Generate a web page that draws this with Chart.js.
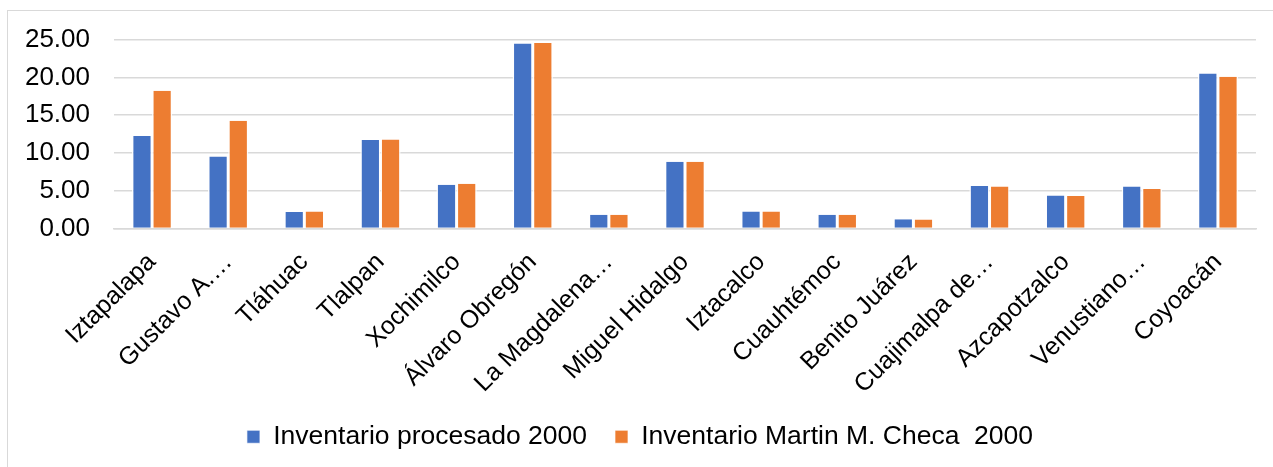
<!DOCTYPE html>
<html>
<head>
<meta charset="utf-8">
<script src="https://cdn.jsdelivr.net/npm/chart.js"></script>
<style>
  html, body { margin: 0; padding: 0; background: #fff; overflow: hidden; }
  #wrap { position: absolute; left: 0; top: 0; width: 1273px; height: 467px; }
  #frame { position: absolute; left: 7px; top: 10px; width: 1300px; height: 500px;
           border: 1px solid #d9d9d9; pointer-events: none; }
</style>
</head>
<body>
<div id="frame"></div>
<div id="wrap"><canvas id="grafico"></canvas></div>
<script>
// delegaciones (etiquetas tal como aparecen, recortadas)
var delegaciones = ['Iztapalapa', 'Gustavo A.…', 'Tláhuac', 'Tlalpan', 'Xochimilco',
    'Álvaro Obregón', 'La Magdalena…', 'Miguel Hidalgo', 'Iztacalco', 'Cuauhtémoc',
    'Benito Juárez', 'Cuajimalpa de…', 'Azcapotzalco', 'Venustiano…', 'Coyoacán'];

var procesado2000 = [12.24, 9.54, 2.17, 11.70, 5.79, 24.50, 1.81, 8.83, 2.25, 1.81,
    1.24, 5.61, 4.37, 5.57, 20.53];

var checa2000 = [18.24, 14.26, 2.25, 11.79, 5.92, 24.55, 1.81, 8.83, 2.25, 1.81,
    1.19, 5.57, 4.29, 5.22, 20.09];

var ticksY = [0, 5, 10, 15, 20, 25];

var fuente = "'Liberation Sans', Arial, sans-serif";
// borde blanco solo a los lados, como en Excel
var bordeBarra = { left: 1.5, right: 1.5, top: 0, bottom: 0 };

var ctx = document.getElementById('grafico').getContext('2d');
var myChart = new Chart(ctx, {
    type: 'bar',
    data: {
        labels: delegaciones,
        datasets: [{
            label: 'Inventario procesado 2000',
            data: procesado2000,
            backgroundColor: '#4472C4',
            borderColor: 'rgba(255,255,255,0.9)',
            borderWidth: bordeBarra
        }, {
            label: 'Inventario Martin M. Checa  2000',
            data: checa2000,
            backgroundColor: '#ED7D31',
            borderColor: 'rgba(255,255,255,0.9)',
            borderWidth: bordeBarra
        }]
    },
    options: {
        responsive: true,
        maintainAspectRatio: false,
        animation: false,
        categoryPercentage: 0.53,
        barPercentage: 1,
        layout: {
            padding: { left: 24, right: 17, top: 24, bottom: 7 }
        },
        plugins: {
            tooltip: { enabled: false },
            legend: {
                position: 'bottom',
                labels: {
                    color: '#000',
                    font: { family: fuente, size: 26.5 },
                    boxWidth: 13,
                    boxHeight: 13,
                    padding: 28
                }
            }
        },
        scales: {
            x: {
                grid: { display: false },
                border: { color: '#d9d9d9', width: 1.5 },
                ticks: {
                    color: '#000',
                    font: { family: fuente, size: 25 },
                    minRotation: 45,
                    maxRotation: 45,
                    autoSkip: false,
                    padding: 11
                },
                afterFit: function (scale) { scale.height = 167; }
            },
            y: {
                min: 0,
                max: 25,
                afterBuildTicks: function (scale) {
                    scale.ticks = ticksY.map(function (v) { return { value: v }; });
                },
                grid: { color: '#d9d9d9', lineWidth: 1.5, drawTicks: false },
                border: { display: false },
                ticks: {
                    color: '#000',
                    font: { family: fuente, size: 26 },
                    padding: 24,
                    callback: function (v) { return Number(v).toFixed(2); }
                },
                afterFit: function (scale) { scale.width = 90; }
            }
        }
    }
});
</script>
</body>
</html>
